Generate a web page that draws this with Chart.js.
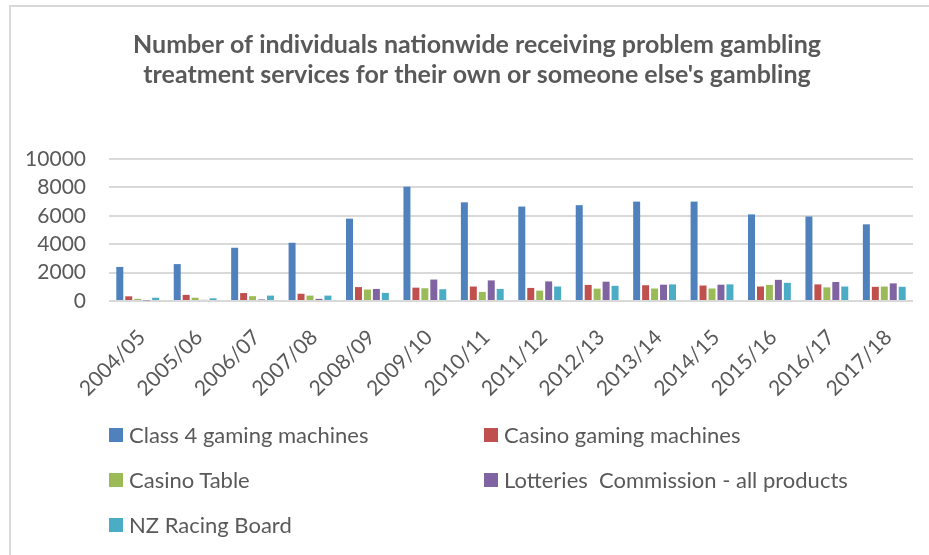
<!DOCTYPE html>
<html>
<head>
<meta charset="utf-8">
<script src="https://cdn.jsdelivr.net/npm/chart.js@4/dist/chart.umd.min.js"></script>
<style>
  html, body { margin: 0; padding: 0; background: #fff; overflow: hidden; }
  #frame {
    position: absolute; left: 9px; top: 5px; width: 940px; height: 560px;
    border-top: 2px solid #d9d9d9; border-left: 2px solid #d9d9d9;
  }
  #wrap { position: absolute; left: 10px; top: 6px; width: 934px; height: 410px; }
  #legend {
    position: absolute; left: 109px; top: 412px;
    display: grid; grid-template-columns: 375px 375px; grid-auto-rows: 45px;
    font-family: Lato, sans-serif; font-size: 22px; color: #595959;
  }
  #legend .item { display: flex; align-items: center; white-space: pre; }
  #legend .box { width: 14px; height: 14px; margin-right: 6px; flex: none; }
</style>
</head>
<body>
<div id="frame"></div>
<div id="wrap"><canvas id="gamblingChart"></canvas></div>
<div id="legend"></div>
<script>
// ===== Data =====
const years = ['2004/05', '2005/06', '2006/07', '2007/08', '2008/09', '2009/10', '2010/11',
               '2011/12', '2012/13', '2013/14', '2014/15', '2015/16', '2016/17', '2017/18'];
const class4Machines = [2400, 2600, 3750, 4100, 5800, 8050, 6950, 6650, 6750, 7000, 7000, 6100, 5950, 5400];
const casinoMachines = [330, 430, 560, 510, 980, 940, 1020, 920, 1130, 1110, 1090, 1020, 1170, 1000];
const casinoTable = [150, 230, 340, 380, 810, 900, 640, 730, 870, 880, 880, 1130, 960, 1020];
const lotteries = [40, 80, 110, 150, 850, 1510, 1450, 1380, 1360, 1150, 1150, 1490, 1340, 1240];
const racingBoard = [230, 190, 380, 380, 570, 830, 850, 1020, 1070, 1170, 1170, 1280, 1020, 1000];
const yTicks = [0, 2000, 4000, 6000, 8000, 10000];

const seriesNames = ['Class 4 gaming machines', 'Casino gaming machines', 'Casino Table',
                     'Lotteries  Commission - all products', 'NZ Racing Board'];
const seriesColors = ['#4F81BD', '#C0504D', '#9BBB59', '#8064A2', '#4BACC6'];
const seriesData = [class4Machines, casinoMachines, casinoTable, lotteries, racingBoard];

const textColor = '#595959';
const gridColor = '#d9d9d9';

const datasets = seriesNames.map((name, i) => ({
    label: name,
    data: seriesData[i],
    backgroundColor: seriesColors[i],
    borderWidth: 0,
    categoryPercentage: 0.78,
    barPercentage: 0.78
}));

const ctx = document.getElementById('gamblingChart').getContext('2d');
const chart = new Chart(ctx, {
    type: 'bar',
    data: { labels: years, datasets },
    options: {
        responsive: true,
        maintainAspectRatio: false,
        animation: false,
        layout: { padding: 0 },
        plugins: {
            legend: { display: false },
            tooltip: { enabled: false },
            title: {
                display: true,
                text: ['Number of individuals nationwide receiving problem gambling',
                       "treatment services for their own or someone else's gambling"],
                color: textColor,
                font: { family: 'Lato', size: 25, weight: 'bold', lineHeight: 1.2 },
                padding: { top: 24, bottom: 69 }
            }
        },
        scales: {
            x: {
                grid: { display: false, drawTicks: false },
                border: { display: false },
                ticks: {
                    color: textColor,
                    font: { family: 'Lato', size: 21 },
                    minRotation: 45, maxRotation: 45,
                    autoSkip: false,
                    labelOffset: 4,
                    padding: 24
                },
                afterFit: (scale) => { scale.height = 115; }
            },
            y: {
                min: 0, max: 10000,
                afterBuildTicks: (scale) => { scale.ticks = yTicks.map(v => ({ value: v })); },
                grid: { color: gridColor, lineWidth: 2, drawTicks: false },
                border: { display: false },
                ticks: {
                    color: textColor,
                    font: { family: 'Lato', size: 21 },
                    padding: 23,
                    autoSkip: false,
                    callback: (v) => String(v)
                },
                afterFit: (scale) => { scale.width = 99; }
            },
            // empty right-hand spacer so the plot stops short of the right edge
            spacer: {
                type: 'linear',
                position: 'right',
                grid: { display: false, drawTicks: false },
                border: { display: false },
                ticks: { display: false },
                afterFit: (scale) => { scale.width = 31; }
            }
        }
    }
});

// ===== HTML legend in two columns =====
document.getElementById('legend').innerHTML = chart.data.datasets.map(ds =>
    `<div class="item"><span class="box" style="background:${ds.backgroundColor}"></span>${ds.label}</div>`
).join('');
</script>
</body>
</html>
